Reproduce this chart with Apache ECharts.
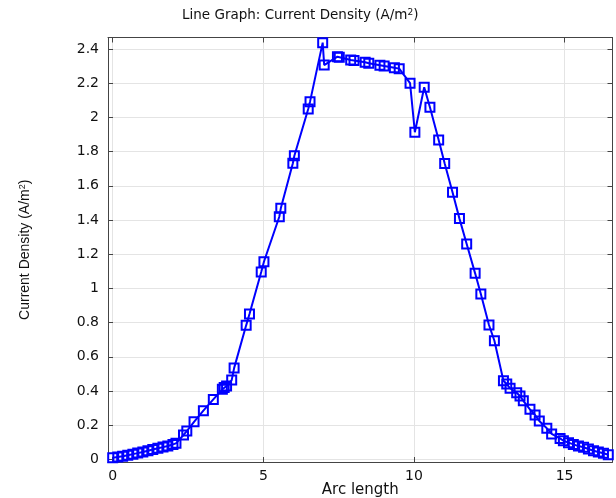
<!DOCTYPE html>
<html><head><meta charset="utf-8">
<script src="https://cdn.jsdelivr.net/npm/echarts@6/dist/echarts.min.js"></script>
<style>html,body{margin:0;padding:0;background:#fff}#c{width:616px;height:498px}</style>
</head><body><div id="c"></div>
<script>
const arcLength = [0.00,0.17,0.33,0.50,0.67,0.83,1.00,1.17,1.33,1.50,1.67,1.83,2.00,2.10,
  2.35,2.46,2.70,3.01,3.34,3.64,3.70,3.78,3.95,4.03,4.43,4.54,4.93,5.02,5.53,5.58,5.98,6.03,
  6.49,6.55,6.97,7.02,7.46,7.52,7.90,8.01,8.38,8.50,8.87,9.01,9.35,9.51,9.87,10.03,10.34,10.53,
  10.82,11.02,11.28,11.51,11.75,12.03,12.22,12.49,12.67,12.97,13.08,13.19,13.41,13.52,13.63,
  13.85,14.02,14.16,14.41,14.57,14.85,14.96,15.13,15.29,15.46,15.63,15.79,15.96,16.12,16.29,16.45];
const currentDensity = [0.010,0.014,0.019,0.025,0.031,0.037,0.044,0.051,0.058,0.065,0.072,0.079,0.088,0.094,
  0.143,0.166,0.220,0.285,0.351,0.410,0.420,0.429,0.464,0.534,0.784,0.850,1.096,1.156,1.419,1.468,1.732,1.776,
  2.049,2.092,2.437,2.306,2.355,2.351,2.336,2.332,2.322,2.316,2.305,2.300,2.290,2.285,2.200,1.913,2.176,2.059,
  1.868,1.730,1.562,1.408,1.260,1.088,0.967,0.786,0.694,0.460,0.441,0.416,0.390,0.371,0.343,
  0.293,0.260,0.225,0.182,0.149,0.123,0.109,0.098,0.088,0.078,0.071,0.061,0.051,0.043,0.036,0.027];
const xTicks = [0,5,10,15];
const yTicks = [0,0.2,0.4,0.6,0.8,1,1.2,1.4,1.6,1.8,2,2.2,2.4];
const titleText = 'Line Graph: Current Density (A/m{sup|2})';
const xName = 'Arc length';
const yName = 'Current Density (A/m{sup|2})';

const blue = '#0000ff';
const axisColor = '#444';
const gridColor = '#e4e4e4';
const xMin = -0.156, xMax = 16.59, yMin = -0.015, yMax = 2.467;

function xAx(pos, main) {
  return {
    type: 'value', position: pos, min: xMin, max: xMax,
    axisLine: {show: true, onZero: false, lineStyle: {color: axisColor, width: 1}},
    axisTick: {show: true, inside: true, length: 5, customValues: xTicks, lineStyle: {color: axisColor}},
    axisLabel: {show: main, customValues: xTicks, fontSize: 14, color: '#111', margin: 7, fontFamily: 'DejaVu Sans'},
    splitLine: {show: main, lineStyle: {color: gridColor, width: 1}},
    name: main ? xName : '', nameLocation: 'middle', nameGap: 21, nameMoveOverlap: false,
    nameTextStyle: {fontSize: 15, color: '#111', fontFamily: 'DejaVu Sans'}
  };
}
function yAx(pos, main) {
  return {
    type: 'value', position: pos, min: yMin, max: yMax,
    axisLine: {show: true, onZero: false, lineStyle: {color: axisColor, width: 1}},
    axisTick: {show: true, inside: true, length: 5, customValues: yTicks, lineStyle: {color: axisColor}},
    axisLabel: {show: main, customValues: yTicks, fontSize: 14, color: '#111', margin: 9, fontFamily: 'DejaVu Sans'},
    splitLine: {show: main, lineStyle: {color: gridColor, width: 1}},
    name: main ? yName : '', nameLocation: 'middle', nameGap: 76, nameMoveOverlap: false,
    nameTextStyle: {fontSize: 14, color: '#111', fontFamily: 'Liberation Sans',
      rich: {sup: {fontSize: 9, verticalAlign: 'top', lineHeight: 9, fontFamily: 'Liberation Sans', color: '#111'}}}
  };
}

const chart = echarts.init(document.getElementById('c'), null, {renderer: 'canvas'});
chart.setOption({
  animation: false,
  backgroundColor: '#fff',
  title: {
    text: titleText, left: 177, top: 3,
    textStyle: {fontSize: 13.5, fontWeight: 'normal', color: '#111', fontFamily: 'DejaVu Sans',
      rich: {sup: {fontSize: 9, verticalAlign: 'top', lineHeight: 9, color: '#111', fontFamily: 'DejaVu Sans'}}}
  },
  grid: {left: 108, right: 3.5, top: 37.5, bottom: 36, containLabel: false, outerBoundsMode: 'none'},
  xAxis: [xAx('bottom', true), xAx('top', false)],
  yAxis: [yAx('left', true), yAx('right', false)],
  series: [{
    type: 'line', xAxisIndex: 0, yAxisIndex: 0,
    data: arcLength.map((x, i) => [x, currentDensity[i]]),
    symbol: 'rect', symbolSize: 9, showAllSymbol: true,
    itemStyle: {color: 'rgba(0,0,0,0)', borderColor: blue, borderWidth: 2},
    lineStyle: {color: blue, width: 2},
    emphasis: {disabled: true},
    clip: false
  }]
});
</script></body></html>
